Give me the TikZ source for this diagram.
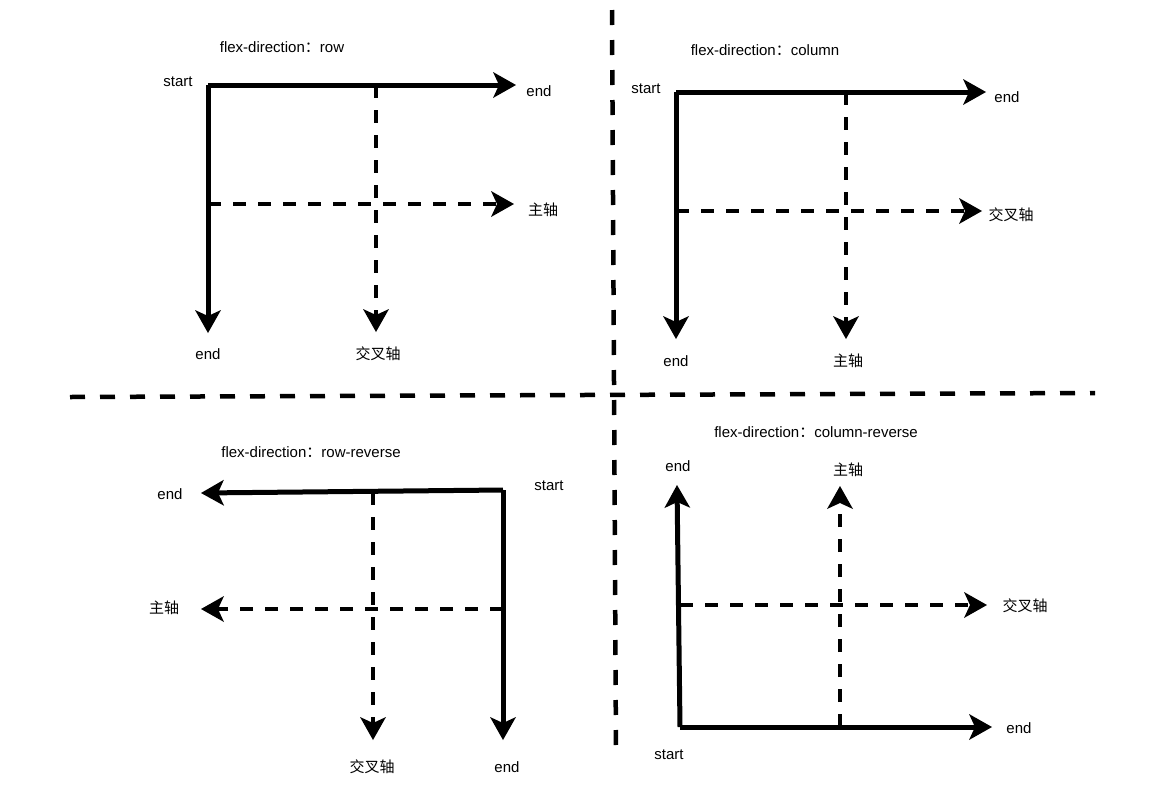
\documentclass[tikz,border=0pt]{standalone}
\usepackage{fontspec}
\setmainfont{Liberation Sans}
\newfontfamily\cjk{Noto Sans CJK SC}
\usetikzlibrary{arrows.meta}
\tikzset{
  axis/.style={line width=5pt, -{Stealth[length=23pt,width=26pt,inset=6pt,line width=0pt]}},
  dasharrow/.style={axis, line width=4.2pt, dash pattern=on 13pt off 12pt},
  sepline/.style={line width=4.5pt, dash pattern=on 15pt off 15pt},
  lbl/.style={font=\fontsize{15pt}{18pt}\selectfont, inner sep=0pt},
}
\begin{document}
\begin{tikzpicture}[x=1pt,y=-1pt]
\useasboundingbox (0,0) rectangle (1162,788);
% separators
\coordinate (vt) at (612,10); \coordinate (vb) at (616,755);
\coordinate (hl) at (70,397); \coordinate (hr) at (1095,393);
\draw[sepline] (vt) -- (vb);
\draw[sepline] (hl) -- (hr);

% ---- panel 1: row
\node[lbl] (t1) at (282,47) {flex-direction{\cjk ：}row};
\node[lbl] (s1) at (178,82) {start};
\coordinate (o1) at (208,85);
\coordinate (h1) at (516,85);
\coordinate (v1) at (208,333);
\coordinate (dv1a) at (376,85); \coordinate (dv1b) at (376,332);
\coordinate (dh1a) at (208,204); \coordinate (dh1b) at (514,204);
\draw[axis] (o1) -- (h1);
\draw[axis] (o1) -- (v1);
\draw[dasharrow] (dv1a) -- (dv1b);
\draw[dasharrow] (dh1a) -- (dh1b);
\node[lbl] (e1a) at (539,91) {end};
\node[lbl] (m1) at (543,210) {\cjk 主轴};
\node[lbl] (e1b) at (208,354) {end};
\node[lbl] (c1) at (378,354) {\cjk 交叉轴};

% ---- panel 2: column
\node[lbl] (t2) at (765,50) {flex-direction{\cjk ：}column};
\node[lbl] (s2) at (646,89) {start};
\coordinate (o2) at (676,92);
\coordinate (h2) at (986,92);
\coordinate (v2) at (676,339);
\coordinate (dv2a) at (846,92); \coordinate (dv2b) at (846,339);
\coordinate (dh2a) at (676,211); \coordinate (dh2b) at (982,211);
\draw[axis] (o2) -- (h2);
\draw[axis] (o2) -- (v2);
\draw[dasharrow] (dv2a) -- (dv2b);
\draw[dasharrow] (dh2a) -- (dh2b);
\node[lbl] (e2a) at (1007,97) {end};
\node[lbl] (c2) at (1011,215) {\cjk 交叉轴};
\node[lbl] (e2b) at (676,361) {end};
\node[lbl] (m2) at (848,361) {\cjk 主轴};

% ---- panel 3: row-reverse
\node[lbl] (t3) at (311,452) {flex-direction{\cjk ：}row-reverse};
\node[lbl] (s3) at (549,486) {start};
\coordinate (o3) at (503,490);
\coordinate (h3) at (201,493);
\coordinate (v3) at (503,740);
\coordinate (dv3a) at (373,492); \coordinate (dv3b) at (373,740);
\coordinate (dh3a) at (503,609); \coordinate (dh3b) at (201,609);
\draw[axis] (o3) -- (h3);
\draw[axis] (o3) -- (v3);
\draw[dasharrow] (dv3a) -- (dv3b);
\draw[dasharrow] (dh3a) -- (dh3b);
\node[lbl] (e3a) at (170,494) {end};
\node[lbl] (m3) at (164,608) {\cjk 主轴};
\node[lbl] (c3) at (372,767) {\cjk 交叉轴};
\node[lbl] (e3b) at (507,767) {end};

% ---- panel 4: column-reverse
\node[lbl] (t4) at (816,432) {flex-direction{\cjk ：}column-reverse};
\node[lbl] (e4a) at (678,466) {end};
\coordinate (o4) at (680,727);
\coordinate (v4) at (677,485);
\coordinate (h4) at (992,727);
\coordinate (dv4a) at (840,727); \coordinate (dv4b) at (840,486);
\coordinate (dh4a) at (680,605); \coordinate (dh4b) at (987,605);
\draw[axis] (o4) -- (v4);
\draw[axis] (o4) -- (h4);
\draw[dasharrow] (dv4a) -- (dv4b);
\draw[dasharrow] (dh4a) -- (dh4b);
\node[lbl] (m4) at (848,470) {\cjk 主轴};
\node[lbl] (c4) at (1025,606) {\cjk 交叉轴};
\node[lbl] (e4b) at (1019,728) {end};
\node[lbl] (s4) at (669,755) {start};
\end{tikzpicture}
\end{document}
